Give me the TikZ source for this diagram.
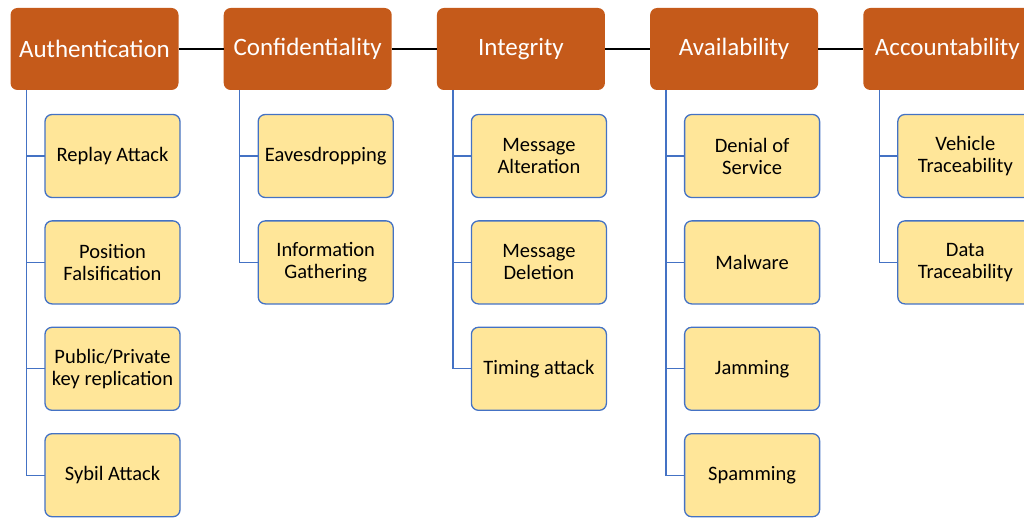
\documentclass[tikz,border=0pt]{standalone}
\usepackage{fontspec}
\setmainfont{Carlito}
\usepackage{xcolor}
\usepackage{tikz}
\usetikzlibrary{positioning}

\definecolor{headorange}{HTML}{C55A1A}
\definecolor{itemfill}{HTML}{FFE699}
\definecolor{itemblue}{HTML}{4472C4}

\tikzset{
  head/.style={fill=headorange, rounded corners=7pt, minimum width=168pt, minimum height=82pt,
    text=white, font=\fontsize{25}{30}\selectfont, inner sep=0pt, outer sep=0pt},
  item/.style={draw=itemblue, line width=1.3pt, fill=itemfill, rounded corners=7pt,
    minimum width=135pt, minimum height=83pt, align=center, inner sep=0pt, outer sep=0pt,
    font=\fontsize{20.5}{22}\selectfont},
  link/.style={draw=itemblue, line width=1.3pt},
  bus/.style={draw=black, line width=1.4pt}
}

\begin{document}
\begin{tikzpicture}[x=1pt, y=1pt, node distance=45.2pt]
\useasboundingbox (0,0) rectangle (1024,-518);
\clip (0,0) rectangle (1024,-518);

% Header row
\node [head] at (94.5,-49) (auth) {Authentication};
\node [head, right=of auth] (conf) {Confidentiality};
\node [head, right=of conf] (integ) {Integrity};
\node [head, right=of integ] (avail) {Availability};
\node [head, right=of avail] (acc) {Accountability};

\draw [bus] (auth.east) -- (conf.west);
\draw [bus] (conf.east) -- (integ.west);
\draw [bus] (integ.east) -- (avail.west);
\draw [bus] (avail.east) -- (acc.west);

% Authentication
\node [item, below=24.5pt of auth.south west, anchor=north west, xshift=34.5pt] (replay) {Replay Attack};
\node [item, node distance=23.4pt, below=of replay] (posfals) {Position\\Falsification};
\node [item, node distance=23.4pt, below=of posfals] (keyrep) {Public/Private\\key replication};
\node [item, node distance=23.4pt, below=of keyrep] (sybil) {Sybil Attack};

% Confidentiality
\node [item, below=24.5pt of conf.south west, anchor=north west, xshift=34.5pt] (eaves) {Eavesdropping};
\node [item, node distance=23.4pt, below=of eaves] (infogath) {Information\\Gathering};

% Integrity
\node [item, below=24.5pt of integ.south west, anchor=north west, xshift=34.5pt] (msgalt) {Message\\Alteration};
\node [item, node distance=23.4pt, below=of msgalt] (msgdel) {Message\\Deletion};
\node [item, node distance=23.4pt, below=of msgdel] (timing) {Timing attack};

% Availability
\node [item, below=24.5pt of avail.south west, anchor=north west, xshift=34.5pt] (dos) {Denial of\\Service};
\node [item, node distance=23.4pt, below=of dos] (malware) {Malware};
\node [item, node distance=23.4pt, below=of malware] (jamming) {Jamming};
\node [item, node distance=23.4pt, below=of jamming] (spamming) {Spamming};

% Accountability
\node [item, below=24.5pt of acc.south west, anchor=north west, xshift=34.5pt] (vehtrace) {Vehicle\\Traceability};
\node [item, node distance=23.4pt, below=of vehtrace] (datatrace) {Data\\Traceability};

% Tree lines
\draw [link] ([xshift=16pt]auth.south west) |- (replay.west);
\draw [link] ([xshift=16pt]auth.south west) |- (posfals.west);
\draw [link] ([xshift=16pt]auth.south west) |- (keyrep.west);
\draw [link] ([xshift=16pt]auth.south west) |- (sybil.west);
\draw [link] ([xshift=16pt]conf.south west) |- (eaves.west);
\draw [link] ([xshift=16pt]conf.south west) |- (infogath.west);
\draw [link] ([xshift=16pt]integ.south west) |- (msgalt.west);
\draw [link] ([xshift=16pt]integ.south west) |- (msgdel.west);
\draw [link] ([xshift=16pt]integ.south west) |- (timing.west);
\draw [link] ([xshift=16pt]avail.south west) |- (dos.west);
\draw [link] ([xshift=16pt]avail.south west) |- (malware.west);
\draw [link] ([xshift=16pt]avail.south west) |- (jamming.west);
\draw [link] ([xshift=16pt]avail.south west) |- (spamming.west);
\draw [link] ([xshift=16pt]acc.south west) |- (vehtrace.west);
\draw [link] ([xshift=16pt]acc.south west) |- (datatrace.west);
\end{tikzpicture}
\end{document}
